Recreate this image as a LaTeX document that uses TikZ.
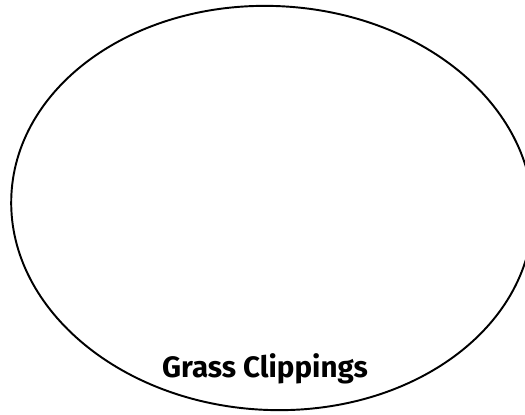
\documentclass[tikz,border=0pt]{standalone}
\usepackage{fontspec}
\setsansfont{Fira Sans}
\usetikzlibrary{shapes.geometric, positioning}

\begin{document}
\begin{tikzpicture}[
  x=0.02cm, y=0.02cm,
  bin/.style={draw, ellipse, line width=1.1pt, minimum width=10.44cm,
              minimum height=8.08cm, inner sep=0pt},
  binlabel/.style={font=\sffamily\bfseries\fontsize{16.8}{19}\selectfont, inner sep=0pt}
]
\useasboundingbox (0,0) rectangle (525,414);

\node[bin, rotate=-3] (clippings) at (272,206) {};

\node[binlabel, anchor=base] (clippingsname) at (265,37) {Grass Clippings};
\end{tikzpicture}
\end{document}
